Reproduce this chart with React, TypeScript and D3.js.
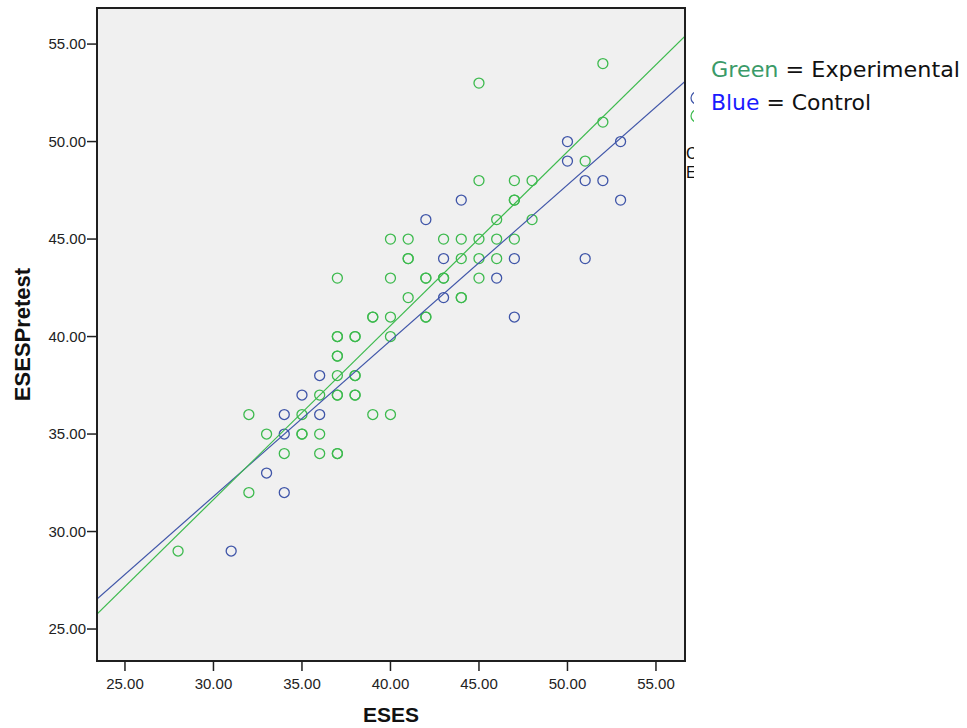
import React from "react";
import * as d3 from "d3";

// ESES (x) vs ESESPretest (y) scores per group
const experimentalX = [28, 32, 32, 33, 34, 35, 35, 35, 36, 36, 36, 37, 37, 37, 37, 37, 37, 37, 37, 37, 37, 38, 38, 38, 38, 38, 38, 39, 39, 39, 40, 40, 40, 40, 40, 41, 41, 41, 41, 42, 42, 42, 42, 43, 43, 43, 44, 44, 44, 44, 45, 45, 45, 45, 45, 46, 46, 46, 47, 47, 47, 47, 48, 48, 51, 52, 52];
const experimentalY = [29, 36, 32, 35, 34, 36, 35, 35, 37, 35, 34, 43, 40, 40, 39, 39, 38, 37, 37, 34, 34, 40, 40, 38, 38, 37, 37, 41, 41, 36, 45, 43, 41, 40, 36, 45, 44, 44, 42, 43, 43, 41, 41, 45, 43, 43, 45, 44, 42, 42, 53, 48, 45, 44, 43, 46, 45, 44, 48, 47, 47, 45, 48, 46, 49, 54, 51];

const controlX = [31, 33, 34, 34, 34, 35, 36, 36, 42, 43, 43, 44, 46, 47, 47, 50, 50, 51, 51, 52, 53, 53];
const controlY = [29, 33, 36, 35, 32, 37, 38, 36, 46, 44, 42, 47, 43, 44, 41, 50, 49, 48, 44, 48, 50, 47];

// Linear fit lines: [slope, intercept]
const experimentalFit = [0.892, 4.88];
const controlFit = [0.799, 7.83];

const xTicks = [25, 30, 35, 40, 45, 50, 55];
const yTicks = [25, 30, 35, 40, 45, 50, 55];

const GREEN = "#3dba4e";
const BLUE = "#3f55a8";

export default function App() {
  const left = 97, right = 685, top = 8, bottom = 661;
  const x = d3.scaleLinear().domain([23.42, 56.64]).range([left, right]);
  const y = d3.scaleLinear().domain([23.36, 56.85]).range([bottom, top]);
  const fmt = d3.format(".2f");

  const fitPath = (fit: number[]) => {
    const [m, b] = fit;
    const dom = x.domain();
    return d3.line<number>().x((v) => x(v)).y((v) => y(m * v + b))(dom) || "";
  };

  const font = "'Liberation Sans', Arial, sans-serif";
  const legendFont = "'Comic Sans MS', 'DejaVu Sans', sans-serif";

  return (
    <svg width={967} height={728} style={{ position: "absolute", left: 0, top: 0, background: "#fff" }}>
      <defs>
        <clipPath id="plotClip">
          <rect x={left} y={top} width={right - left} height={bottom - top} />
        </clipPath>
        <clipPath id="edgeClip">
          <rect x={right + 1} y={80} width={8} height={110} />
        </clipPath>
      </defs>

      <rect x={left} y={top} width={right - left} height={bottom - top} fill="#f0f0f0" />

      <g clipPath="url(#plotClip)">
        {controlX.map((v, i) => (
          <circle key={"c" + i} cx={x(v)} cy={y(controlY[i])} r={5} fill="none" stroke={BLUE} strokeWidth={1.3} />
        ))}
        {experimentalX.map((v, i) => (
          <circle key={"e" + i} cx={x(v)} cy={y(experimentalY[i])} r={5} fill="none" stroke={GREEN} strokeWidth={1.3} />
        ))}
        <path d={fitPath(controlFit)} fill="none" stroke={BLUE} strokeWidth={1.2} />
        <path d={fitPath(experimentalFit)} fill="none" stroke={GREEN} strokeWidth={1.2} />
      </g>

      <rect x={left} y={top} width={right - left} height={bottom - top} fill="none" stroke="#1f1f1f" strokeWidth={2} />

      {/* y axis */}
      {yTicks.map((t) => (
        <g key={"y" + t}>
          <line x1={left - 10} x2={left} y1={y(t)} y2={y(t)} stroke="#1f1f1f" strokeWidth={1.5} />
          <text x={left - 11} y={y(t)} dy="0.36em" textAnchor="end" fontFamily={font} fontSize={15} fill="#222">
            {fmt(t)}
          </text>
        </g>
      ))}
      {/* x axis */}
      {xTicks.map((t) => (
        <g key={"x" + t}>
          <line x1={x(t)} x2={x(t)} y1={bottom} y2={bottom + 10} stroke="#1f1f1f" strokeWidth={1.5} />
          <text x={x(t)} y={bottom + 28} textAnchor="middle" fontFamily={font} fontSize={15} fill="#222">
            {fmt(t)}
          </text>
        </g>
      ))}

      <text x={(left + right) / 2} y={722} textAnchor="middle" fontFamily={font} fontWeight="bold" fontSize={21} fill="#111">
        ESES
      </text>
      <text
        transform={`translate(30, ${(top + bottom) / 2}) rotate(-90)`}
        textAnchor="middle"
        fontFamily={font}
        fontWeight="bold"
        fontSize={22}
        fill="#111"
      >
        ESESPretest
      </text>

      {/* group key at the frame edge */}
      <g clipPath="url(#edgeClip)">
        <circle cx={697} cy={98} r={6} fill="none" stroke={BLUE} strokeWidth={1.2} />
        <circle cx={697} cy={116} r={6} fill="none" stroke={GREEN} strokeWidth={1.2} />
        <text x={686} y={159} fontFamily={font} fontSize={16} fill="#111">Control</text>
        <text x={686} y={178} fontFamily={font} fontSize={16} fill="#111">Experimental</text>
      </g>

      {/* colour key */}
      <text x={711} y={77} fontFamily={legendFont} fontSize={22} textLength={249} lengthAdjust="spacingAndGlyphs">
        <tspan fill="#3a9a68">Green</tspan>
        <tspan fill="#111"> = Experimental</tspan>
      </text>
      <text x={711} y={110} fontFamily={legendFont} fontSize={22} textLength={160} lengthAdjust="spacingAndGlyphs">
        <tspan fill="#1a1aff">Blue</tspan>
        <tspan fill="#111"> = Control</tspan>
      </text>
    </svg>
  );
}
